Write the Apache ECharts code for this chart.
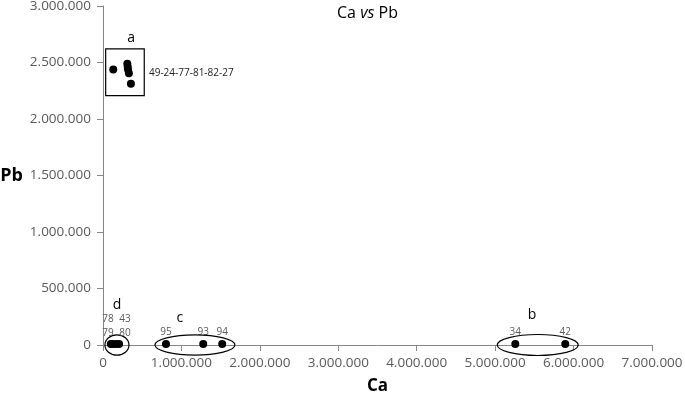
<!DOCTYPE html>
<html>
<head>
<meta charset="utf-8">
<script src="https://cdn.jsdelivr.net/npm/echarts@6/dist/echarts.min.js"></script>
<style>
  html, body { margin: 0; padding: 0; background: #fff; }
  #chart { width: 685px; height: 399px; }
</style>
</head>
<body>
<div id="chart"></div>
<script>
// data (Ca, Pb)
var groupA = [[131000, 2438000], [310000, 2490000], [315000, 2462000], [318000, 2440000], [330000, 2405000], [356000, 2311000]]
var groupD = [[100000, 8000], [125000, 8000], [165000, 8000], [205000, 8000]]
var groupC = [[803000, 9000], [1278000, 9000], [1520000, 9000]]
var groupB = [[5257000, 9000], [5894000, 9000]]
var namesC = ['95', '93', '94']
var namesB = ['34', '42']

var xTicks = [0, 1000000, 2000000, 3000000, 4000000, 5000000, 6000000, 7000000]
var yTicks = [0, 500000, 1000000, 1500000, 2000000, 2500000, 3000000]

// annotation shapes in data units
var boxA = [34000, 2207000, 526000, 2621000]
var ellipses = [
  [25000, -90000, 331000, 90000],
  [662000, -90000, 1682000, 90000],
  [5027000, -93000, 6059000, 93000]
]
var letters = [['a', 360000, 2720000], ['d', 178000, 355000], ['c', 980000, 240000], ['b', 5470000, 266000]]
var smallTexts = [['49-24-77-81-82-27', 586000, 2410000, 'left'], ['78', 64000, 230000, 'center'], ['43', 280000, 230000, 'center'],
  ['79', 64000, 106000, 'center'], ['80', 280000, 106000, 'center']]

function fmt(v) {
  return String(v).replace(/\B(?=(\d{3})+(?!\d))/g, '.')
}

var FONT = 'Open Sans'
var chart = echarts.init(document.getElementById('chart'))

function toData(arr, names) {
  return arr.map(function (p, i) { return { value: p, name: names ? names[i] : '' } })
}

var pointLabel = { show: true, position: 'top', distance: 3, fontSize: 10, color: '#595959', fontFamily: FONT, formatter: '{b}' }
var dot = { color: '#000', opacity: 1 }

chart.setOption({
  animation: false,
  title: {
    text: '{n|Ca }{i|vs}{n| Pb}',
    left: 332, top: 0,
    textStyle: {
      fontWeight: 'normal',
      rich: {
        n: { fontSize: 16, color: '#000', fontFamily: FONT, fontWeight: 'normal' },
        i: { fontSize: 16, color: '#000', fontFamily: FONT, fontStyle: 'italic', fontWeight: 'normal' }
      }
    }
  },
  grid: { left: 103, right: 33, top: 6, bottom: 54, outerBoundsMode: 'none', containLabel: false },
  xAxis: {
    type: 'value', min: 0, max: 7000000, interval: 1000000,
    name: 'Ca', nameLocation: 'middle', nameGap: 33,
    nameTextStyle: { fontSize: 17, fontWeight: 'bold', color: '#000', fontFamily: FONT },
    axisLine: { lineStyle: { color: '#868686' } },
    axisTick: { show: true, length: 6, lineStyle: { color: '#868686' } },
    axisLabel: { fontSize: 13.5, color: '#595959', fontFamily: FONT, margin: 11, formatter: fmt },
    splitLine: { show: false }
  },
  yAxis: {
    type: 'value', min: 0, max: 3000000, interval: 500000,
    name: 'Pb', nameLocation: 'middle', nameGap: 80, nameRotate: 0,
    nameTextStyle: { fontSize: 18, fontWeight: 'bold', color: '#000', fontFamily: FONT },
    axisLine: { show: true, lineStyle: { color: '#868686' } },
    axisTick: { show: true, length: 6, lineStyle: { color: '#868686' } },
    axisLabel: { fontSize: 13.5, color: '#595959', fontFamily: FONT, margin: 12, formatter: fmt },
    splitLine: { show: false }
  },
  series: [
    { type: 'scatter', data: toData(groupA), symbolSize: 8, itemStyle: dot, z: 5 },
    { type: 'scatter', data: toData(groupD), symbolSize: 8, itemStyle: dot, z: 5 },
    { type: 'scatter', data: toData(groupC, namesC), symbolSize: 8, itemStyle: dot, label: pointLabel, z: 5 },
    { type: 'scatter', data: toData(groupB, namesB), symbolSize: 8, itemStyle: dot, label: pointLabel, z: 5 }
  ]
})

// annotations placed from data coordinates
function px(x, y) { return chart.convertToPixel({ gridIndex: 0 }, [x, y]) }
var elems = []
var b0 = px(boxA[0], boxA[3]), b1 = px(boxA[2], boxA[1])
elems.push({ type: 'rect', shape: { x: b0[0], y: b0[1], width: b1[0] - b0[0], height: b1[1] - b0[1] },
  style: { fill: 'none', stroke: '#000', lineWidth: 1.2 }, z: 10 })
ellipses.forEach(function (e) {
  var p0 = px(e[0], e[3]), p1 = px(e[2], e[1])
  elems.push({ type: 'ellipse', shape: { cx: (p0[0] + p1[0]) / 2, cy: (p0[1] + p1[1]) / 2, rx: (p1[0] - p0[0]) / 2, ry: (p1[1] - p0[1]) / 2 },
    style: { fill: 'none', stroke: '#000', lineWidth: 1.2 }, z: 10 })
})
letters.forEach(function (l) {
  var p = px(l[1], l[2])
  elems.push({ type: 'text', x: p[0], y: p[1], style: { text: l[0], fontSize: 14, fill: '#000', fontFamily: FONT, align: 'center', verticalAlign: 'middle' }, z: 10 })
})
smallTexts.forEach(function (t) {
  var p = px(t[1], t[2])
  elems.push({ type: 'text', x: p[0], y: p[1], style: { text: t[0], fontSize: 10, fill: t[3] === 'left' ? '#222' : '#595959', fontFamily: FONT, align: t[3], verticalAlign: 'middle' }, z: 10 })
})
chart.setOption({ graphic: elems })
</script>
</body>
</html>
